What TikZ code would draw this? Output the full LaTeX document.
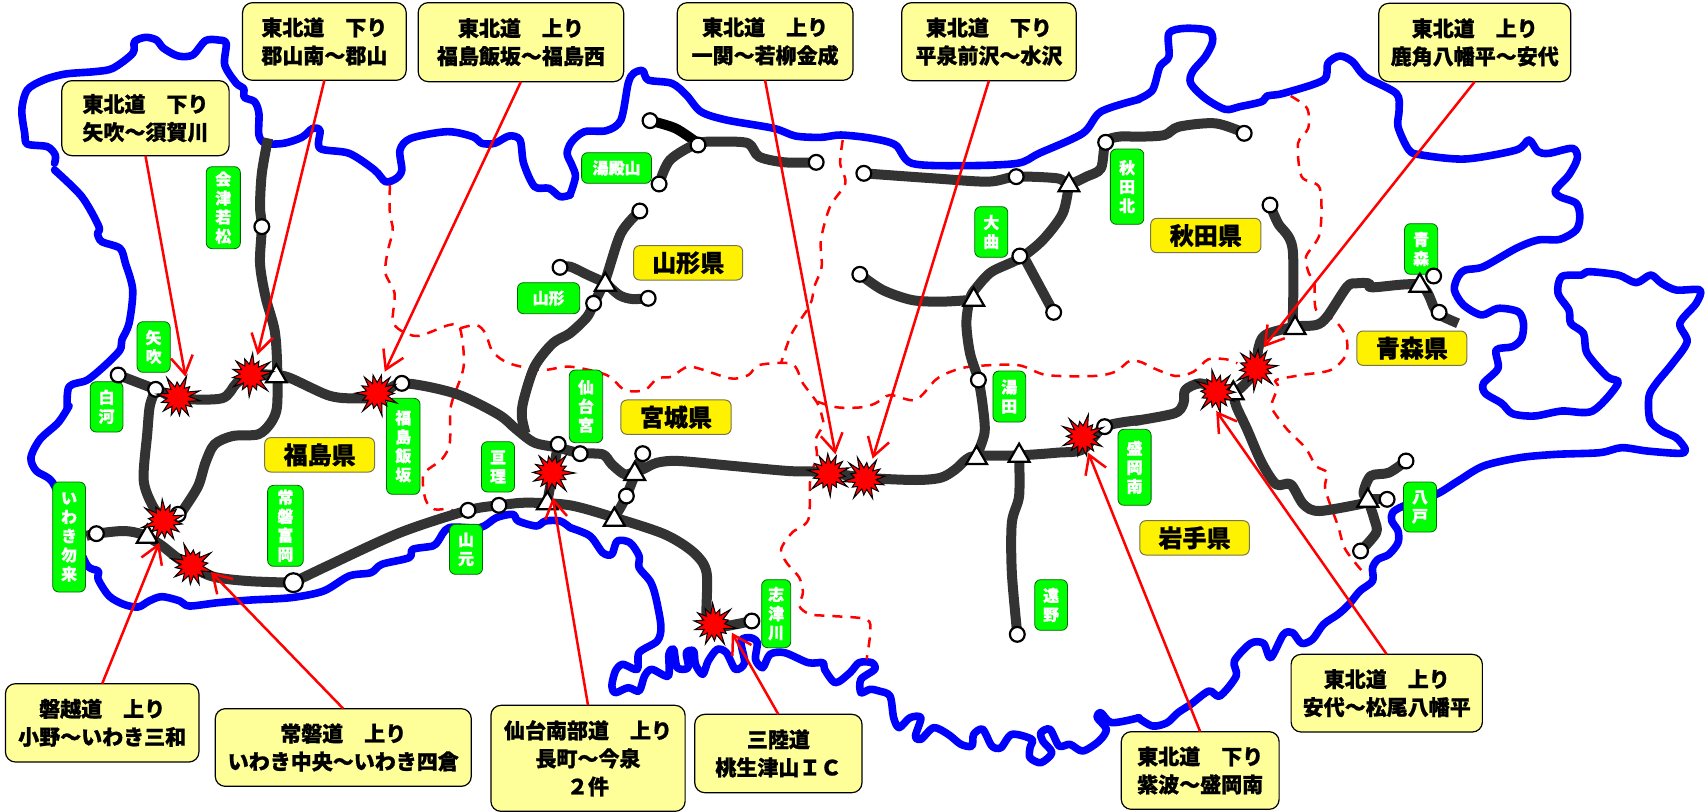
\documentclass[tikz,border=0pt]{standalone}
\usepackage{fontspec}
\setmainfont{Noto Sans CJK JP}[BoldFeatures={FakeBold=1}]
\usetikzlibrary{shapes.geometric,arrows.meta}
\definecolor{roadc}{HTML}{333333}
\definecolor{lblc}{HTML}{FFFF99}
\definecolor{grn}{HTML}{00FF00}
\tikzset{
 p1/.style={shift={(0pt,0pt)},x=0.18182pt,y=-0.16667pt},
 p2/.style={shift={(285pt,0pt)},x=0.18182pt,y=-0.16667pt},
 p3/.style={shift={(569pt,0pt)},x=0.18182pt,y=-0.16667pt},
 p4/.style={shift={(0pt,-203pt)},x=0.18182pt,y=-0.16667pt},
 p5/.style={shift={(285pt,-203pt)},x=0.18182pt,y=-0.16667pt},
 p6/.style={shift={(569pt,-203pt)},x=0.18182pt,y=-0.16667pt},
 coast/.style={draw=blue,line width=3.8pt,line join=round,line cap=round},
 border/.style={draw=red,line width=1.25pt,dash pattern=on 5pt off 4pt},
 road/.style={draw=roadc,line width=5pt,line join=round},
 lblbox/.style={draw=black,line width=.6pt,fill=lblc,rounded corners=5pt,inner sep=0pt,outer sep=0pt,align=center,font=\fontsize{10.5}{14}\selectfont\bfseries},
 prefbox/.style={draw=black!60!yellow,line width=.5pt,fill=yellow,rounded corners=3pt,inner sep=0pt,outer sep=0pt,align=center,font=\fontsize{12}{14}\selectfont\bfseries},
 grnbox/.style={draw=black!60!green,line width=.4pt,fill=grn,rounded corners=3pt,inner sep=0pt,outer sep=0pt,align=center,text=white,font=\fontsize{8}{9.5}\selectfont\bfseries},
 cir/.style={circle,draw=black,line width=1.1pt,fill=white,minimum size=7.4pt,inner sep=0pt},
 tri/.style={regular polygon,regular polygon sides=3,draw=black,line width=1.1pt,fill=white,minimum size=12pt,inner sep=0pt},
 burstp/.style={draw=black,line width=.5pt,fill=red,miter limit=10},
 pointer/.style={draw=red,line width=1.25pt,-{Straight Barb[length=9pt,width=11pt]}},
}
\newcommand{\bl}[1]{\draw[coast] plot[smooth,tension=.5] coordinates {#1};}
\newcommand{\dl}[1]{\draw[border] plot[smooth,tension=.5] coordinates {#1};}
\newcommand{\rd}[1]{\draw[road] plot[smooth,tension=.5] coordinates {#1};}
\newcommand{\lb}[6]{\node[lblbox,minimum width={(#3-#2)*0.18182pt},minimum height={(#5-#4)*0.16667pt}] (#1) at ({(#2+#3)/2},{(#4+#5)/2}) {#6};}
\newcommand{\pf}[6]{\node[prefbox,minimum width={(#3-#2)*0.18182pt},minimum height={(#5-#4)*0.16667pt}] (#1) at ({(#2+#3)/2},{(#4+#5)/2}) {#6};}
\newcommand{\gn}[6]{\node[grnbox,minimum width={(#3-#2)*0.18182pt},minimum height={(#5-#4)*0.16667pt}] (#1) at ({(#2+#3)/2},{(#4+#5)/2}) {#6};}
\begin{document}
\begin{tikzpicture}
\useasboundingbox (0pt,0pt) rectangle (854pt,-406pt);
\fill[white] (0pt,0pt) rectangle (854pt,-406pt);
% coast
\begin{scope}[p1]
\bl{(150,490)(152,465)(130,440)(75,432)(68,400)(60,330)(75,270)(120,240)(180,222)(260,215)(310,205)(365,160)(370,125)(400,112)(430,120)(450,145)(490,168)(530,165)(565,122)(600,120)(622,130)(618,195)(650,250)(670,265)(672,292)(700,305)(712,340)(712,405)(730,430)(780,430)(830,412)(860,385)(880,392)(880,445)(960,460)(1030,510)(1060,545)(1090,535)(1105,510)(1100,450)(1130,415)(1230,395)(1300,410)(1325,430)(1360,430)(1400,408)(1430,420)(1440,490)(1470,560)(1510,565)(1540,590)(1568,585)}
\bl{(185,1225)(190,1160)(240,1140)(290,1095)(330,1050)(335,1020)(355,970)(365,870)(345,790)(330,745)(280,725)(268,700)(272,680)(225,590)(150,510)}
\end{scope}
\begin{scope}[p2]
\bl{(0,585)(15,530)(5,495)(-8,460)(5,425)(40,395)(100,392)(140,360)(160,250)(175,220)(200,212)(215,240)(280,250)(320,285)(360,335)(430,360)(560,385)(620,408)(690,412)(745,405)(830,415)(895,435)(940,490)(1080,497)(1230,490)(1290,460)(1410,400)(1460,335)(1565,298)}
\end{scope}
\begin{scope}[p3]
\bl{(0,298)(40,270)(60,200)(85,170)(85,100)(130,85)(195,92)(205,125)(185,170)(150,215)(145,250)(185,295)(240,328)(280,320)(340,305)(355,288)(400,280)(510,240)(522,190)(555,168)(590,185)(625,230)(710,280)(718,330)(715,380)(745,450)(780,465)(900,477)(1040,450)(1075,420)(1100,455)(1130,460)(1195,445)(1208,475)(1185,525)(1148,570)(1160,590)(1205,610)(1215,650)(1205,690)(1160,718)(1100,720)(1040,745)(950,800)(900,810)(880,830)(870,870)(895,915)(945,945)(990,925)(1045,935)(1060,970)(1055,1015)(1030,1040)(985,1050)(990,1105)(950,1150)(955,1180)(1000,1210)(1030,1241)(1090,1248)(1165,1233)(1250,1233)(1320,1150)(1290,1130)(1235,1060)(1225,1000)(1190,970)(1185,930)(1155,880)(1165,830)(1220,825)(1240,815)(1320,825)(1370,848)(1410,825)(1440,850)(1480,870)(1545,870)(1535,910)(1490,970)(1510,1025)(1470,1090)(1425,1150)(1405,1190)(1408,1260)(1440,1293)(1480,1313)(1505,1348)(1490,1360)(1400,1353)(1330,1343)(1270,1358)(1150,1363)(1050,1373)(950,1398)(880,1443)(820,1483)(730,1518)(700,1538)(698,1563)(715,1593)(715,1628)(690,1663)(660,1678)(645,1703)(645,1743)(610,1773)(580,1813)(550,1843)(510,1873)(480,1918)(450,1930)(425,1898)(400,1903)(365,1973)(345,1930)(310,1930)(265,1983)(270,2028)(225,2088)(195,2073)(145,2113)(110,2138)(80,2168)(40,2178)(0,2153)}
\end{scope}
\begin{scope}[p5]
\bl{(1565,935)(1490,950)(1460,920)(1450,935)(1475,970)(1455,1005)(1410,1035)(1375,1015)(1345,1020)(1320,970)(1295,980)(1300,1005)(1325,1040)(1295,1070)(1265,1055)(1265,1025)(1270,1000)(1215,985)(1185,1025)(1160,1020)(1135,970)(1110,985)(1105,1020)(1075,1015)(1040,985)(1000,965)(965,1000)(950,990)(965,935)(935,935)(905,965)(890,935)(880,870)(850,855)(825,850)(800,860)(800,820)(838,790)(830,770)(795,770)(770,800)(730,830)(700,790)(695,770)(655,770)(590,740)(550,745)(530,785)(510,760)(515,710)(495,695)(470,705)(480,770)(455,790)(430,740)(405,730)(380,765)(365,805)(345,775)(340,735)(320,740)(325,785)(295,785)(285,730)(272,745)(270,810)(225,790)(205,810)(190,855)(160,845)(125,860)(115,840)(125,795)(145,775)(185,790)(190,740)(240,705)(250,660)(235,570)(220,525)(190,485)(190,450)(165,410)(130,405)(115,445)(90,440)(55,390)(0,365)}
\end{scope}
\begin{scope}[p4]
\bl{(1568,365)(1540,345)(1500,345)(1475,360)(1425,345)(1410,325)(1365,335)(1320,365)(1235,365)(1205,405)(1190,420)(1135,430)(1125,455)(1050,475)(1020,500)(960,510)(890,555)(800,575)(690,582)(600,590)(520,600)(495,585)(445,572)(410,585)(380,603)(340,595)(300,570)(270,520)(270,495)(238,475)(190,350)(145,230)(100,195)(85,155)(110,100)(160,50)(190,0)}
\end{scope}
% dashed borders
\begin{scope}[p1]
\dl{(1072,555)(1072,640)(1080,690)(1065,760)(1060,820)(1085,880)(1080,960)(1100,990)(1150,1008)(1235,975)(1265,985)(1275,1100)(1240,1218)(1237,1328)(1215,1378)(1165,1423)(1170,1498)(1195,1528)(1240,1528)(1270,1568)}
\dl{(1265,985)(1310,975)(1335,1000)(1355,1055)(1400,1090)(1490,1110)(1568,1100)(1668,1125)(1718,1170)(1773,1170)(1808,1135)(1848,1130)(1898,1100)(2008,1135)(2058,1125)(2088,1095)(2178,1092)(2208,1150)(2248,1210)(2263,1260)(2263,1278)(2243,1318)(2246,1368)(2228,1438)(2223,1558)(2178,1598)(2148,1648)(2163,1688)(2198,1733)(2208,1778)(2198,1818)(2228,1843)(2288,1848)(2383,1858)(2393,1898)(2383,1978)}
\end{scope}
\begin{scope}[p2]
\dl{(750,420)(743,490)(757,550)(715,620)(690,720)(692,800)(672,860)(660,915)(610,1000)(580,1090)}
\dl{(680,1205)(735,1222)(800,1222)(840,1210)(880,1185)(950,1200)(1005,1140)(1040,1118)(1100,1100)(1230,1095)(1310,1125)(1440,1128)(1500,1115)(1540,1082)(1575,1088)(1595,1100)(1665,1128)(1715,1115)(1755,1078)(1805,1078)(1835,1090)}
\end{scope}
\begin{scope}[p3]
\dl{(420,288)(465,325)(468,385)(440,430)(450,530)(500,565)(500,700)(462,770)(470,820)(485,850)(490,930)(540,960)(572,1010)(572,1065)(530,1110)(450,1125)(380,1140)(385,1160)(368,1210)(372,1233)(410,1288)(460,1343)(490,1398)(520,1418)(515,1468)(550,1578)(570,1648)(620,1718)}
\end{scope}
% roads
\begin{scope}[p1]
\rd{(737,415)(720,520)(715,620)(720,680)(715,790)(730,890)(755,990)(762,1090)(762,1218)(745,1268)(710,1303)(640,1308)(590,1333)(565,1388)(545,1458)(505,1528)(490,1548)}
\rd{(325,1125)(428,1168)(490,1195)(610,1195)(650,1150)(690,1125)(760,1125)(800,1135)(900,1185)(960,1195)(1040,1190)(1105,1150)(1250,1180)(1370,1243)(1420,1288)(1470,1328)(1535,1343)(1595,1361)}
\rd{(428,1168)(412,1218)(405,1300)(395,1440)(420,1518)(450,1560)}
\rd{(1632,910)(1615,950)(1567,1000)(1520,1030)(1470,1100)(1440,1200)(1435,1250)(1445,1300)}
\rd{(1540,802)(1568,800)(1617,825)(1664,848)}
\end{scope}
\begin{scope}[p2]
\draw[line width=5pt,black] plot[smooth,tension=.5] coordinates {(220,362)(290,385)(352,430)};
\rd{(97,848)(135,885)(170,897)(215,895)}
\rd{(192,633)(140,700)(97,840)(65,910)}
\rd{(245,552)(275,480)(352,430)(420,425)(490,430)(520,470)(590,487)(677,487)}
\rd{(808,520)(1000,535)(1150,545)(1227,530)(1340,535)(1372,552)(1420,530)(1460,505)(1473,427)(1510,410)(1568,410)(1635,405)(1675,380)(1775,370)(1857,400)}
\rd{(1372,552)(1355,640)(1300,720)(1237,775)(1160,815)(1120,860)(1100,895)(1090,970)(1100,1060)(1123,1140)(1135,1218)(1140,1298)(1118,1368)}
\rd{(797,823)(860,870)(940,900)(1020,905)(1100,900)}
\rd{(1250,775)(1330,937)}
\end{scope}
\begin{scope}[p3]
\rd{(363,615)(385,670)(425,745)(425,980)}
\rd{(-10,1263)(100,1240)(125,1210)(130,1170)(170,1150)(215,1165)(262,1178)(300,1145)(328,1100)(330,1050)(350,1005)(432,980)(490,975)(520,950)(575,860)(600,850)(635,850)(645,862)(775,855)(815,925)(830,945)(880,970)}
\rd{(262,1178)(270,1218)(300,1288)(340,1388)(380,1453)(420,1453)(455,1513)(500,1533)(630,1508)}
\rd{(632,1498)(650,1558)(655,1598)(612,1653)}
\rd{(632,1498)(620,1478)(640,1428)(690,1418)(737,1383)}
\rd{(632,1498)(685,1498)}
\end{scope}
\begin{scope}[p4]
\rd{(237,390)(265,383)(340,375)(390,385)(440,415)(500,465)(580,510)(680,525)(805,530)}
\rd{(805,530)(900,480)(1100,380)(1287,313)(1372,298)(1450,290)(1568,298)(1690,335)(1828,385)(1908,440)(1943,500)(1943,640)(1963,665)(2068,645)}
\rd{(1535,115)(1520,200)(1505,288)}
\end{scope}
\begin{scope}[p5]
\rd{(28,143)(90,145)(115,175)(150,205)(178,197)(200,190)(240,170)(300,165)(450,180)(600,195)(700,198)(810,215)(950,222)(1020,215)(1060,190)(1090,160)(1118,150)(1235,148)(1340,140)(1410,130)(1470,62)(1570,42)}
\rd{(122,335)(155,270)(200,143)}
\rd{(1235,148)(1235,270)(1215,350)(1215,500)(1230,685)}
\end{scope}
% green boxes
\begin{scope}[p1]
\gn{g1}{567}{661}{500}{746}{会\\津\\若\\松}
\gn{g2}{377}{468}{965}{1117}{矢\\吹}
\gn{g3}{248}{338}{1145}{1296}{白\\河}
\gn{g4}{1063}{1155}{1195}{1483}{福\\島\\飯\\坂}
\gn{g5}{1423}{1594}{848}{941}{山形}
\end{scope}
\begin{scope}[p4]
\gn{g6}{145}{235}{228}{558}{い\\わ\\き\\勿\\来}
\gn{g7}{736}{834}{238}{481}{常\\磐\\富\\岡}
\gn{g8}{1324}{1415}{107}{258}{亘\\理}
\gn{g9}{1236}{1327}{355}{505}{山\\元}
\end{scope}
\begin{scope}[p2]
\gn{g10}{32}{224}{458}{550}{湯殿山}
\gn{g11}{-2}{90}{1110}{1328}{仙\\台\\宮}
\gn{g12}{1486}{1578}{447}{673}{秋\\田\\北}
\gn{g13}{1113}{1204}{620}{772}{大\\曲}
\gn{g14}{1163}{1253}{1113}{1266}{湯\\田}
\end{scope}
\begin{scope}[p5]
\gn{g15}{527}{607}{521}{725}{志\\津\\川}
\gn{g16}{1278}{1368}{521}{673}{遠\\野}
\gn{g17}{1507}{1598}{70}{298}{盛\\岡\\南}
\end{scope}
\begin{scope}[p3]\gn{g18}{733}{824}{671}{823}{青\\森}\end{scope}
\begin{scope}[p6]\gn{g19}{730}{821}{228}{378}{八\\戸}\end{scope}
% prefecture boxes
\begin{scope}[p4]\pf{k1}{728}{1030}{95}{198}{福島県}\end{scope}
\begin{scope}[p2]\pf{k2}{175}{475}{737}{840}{山形県}\end{scope}
\begin{scope}[p5]\pf{k3}{140}{443}{-18}{85}{宮城県}\end{scope}
\begin{scope}[p3]\pf{k4}{35}{338}{655}{758}{秋田県}\pf{k5}{602}{904}{993}{1096}{青森県}\end{scope}
\begin{scope}[p6]\pf{k6}{5}{306}{344}{447}{岩手県}\end{scope}
% circles
\begin{scope}[p1]\foreach \x/\y [count=\i] in {325/1125,428/1168,720/680,1105/1150,1540/802} \node[cir] (ca\i) at (\x,\y) {};\end{scope}
\begin{scope}[p2]\foreach \x/\y [count=\i] in {220/362,352/435,245/552,677/487,808/520,1227/530,1473/427,192/633,215/895,65/910,797/823,1237/768,1330/937,1123/1140} \node[cir] (cb\i) at (\x,\y) {};\end{scope}
\begin{scope}[p3]\foreach \x/\y [count=\i] in {292/400,363/615,813/828,828/937} \node[cir] (cc\i) at (\x,\y) {};\end{scope}
\begin{scope}[p4]\foreach \x/\y [count=\i] in {265/383,490/325,1287/313,1372/298,1535/115} \node[cir] (cd\i) at (\x,\y) {};
\node[cir,minimum size=9.4pt] (cd6) at (807,530) {};\end{scope}
\begin{scope}[p5]\foreach \x/\y [count=\i] in {28/143,200/143,155/270,500/645,1230/685,1470/62} \node[cir] (ce\i) at (\x,\y) {};\end{scope}
\begin{scope}[p6]\foreach \x/\y [count=\i] in {737/165,685/280,612/435} \node[cir] (cf\i) at (\x,\y) {};\end{scope}
% triangles
\begin{scope}[p1]\node[tri] (ta) at (760,1129) {};\end{scope}
\begin{scope}[p2]\node[tri] (tb1) at (97,854) {};\node[tri] (tb2) at (1372,556) {};\node[tri] (tb3) at (1110,899) {};\end{scope}
\begin{scope}[p3]\node[tri] (tc1) at (432,984) {};\node[tri] (tc2) at (262,1180) {};\node[tri] (tc3) at (775,857) {};\end{scope}
\begin{scope}[p4]\node[tri] (td1) at (405,392) {};\node[tri] (td2) at (1505,292) {};\end{scope}
\begin{scope}[p5]\node[tri] (te1) at (178,204) {};\node[tri] (te2) at (122,341) {};\node[tri] (te3) at (1118,156) {};\node[tri] (te4) at (1235,149) {};\end{scope}
\begin{scope}[p6]\node[tri] (tf) at (632,284) {};\end{scope}
% bursts
\begin{scope}[p1]\coordinate (b1) at (490,1192);\coordinate (b2) at (690,1125);\coordinate (b3) at (1037,1180);
\coordinate (t1) at (510,1130);\coordinate (t2) at (708,1065);\coordinate (t3) at (1058,1115);\end{scope}
\begin{scope}[p4]\coordinate (b4) at (450,345);\coordinate (b5) at (528,478);\coordinate (b6) at (1518,200);
\coordinate (t7) at (438,410);\coordinate (t8) at (580,498);\coordinate (t9) at (1520,275);\end{scope}
\begin{scope}[p5]\coordinate (b7) at (712,203);\coordinate (b8) at (812,218);\coordinate (b9) at (1410,92);\coordinate (b10) at (395,655);
\coordinate (t4) at (730,145);\coordinate (t5) at (832,158);\coordinate (t10) at (445,680);\coordinate (t11) at (1425,140);\end{scope}
\begin{scope}[p3]\coordinate (b11) at (325,1105);\coordinate (b12) at (215,1175);\coordinate (t6) at (345,1042);\end{scope}
\begin{scope}[p6]\coordinate (t12) at (215,15);\end{scope}
\foreach \k in {1,...,12} {
 \begin{scope}[shift={(b\k)},x=1pt,y=1pt,rotate=\k*17]
 \draw[burstp] plot[samples at={0,...,27}] ({\x*360/28}:{mod(\x,2)==0 ? 9.6+1.9*sin(\x*97+\k*53) : 5.4}) -- cycle;
 \end{scope}
}
% callouts
\begin{scope}[p1]
\lb{L1}{170}{630}{242}{467}{東北道　下り\\矢吹～須賀川}
\lb{L2}{667}{1117}{8}{241}{東北道　下り\\郡山南～郡山}
\lb{L3}{1150}{1715}{8}{245}{東北道　上り\\福島飯坂～福島西}
\end{scope}
\begin{scope}[p2]
\lb{L4}{295}{778}{8}{241}{東北道　上り\\一関～若柳金成}
\lb{L5}{912}{1392}{8}{242}{東北道　下り\\平泉前沢～水沢}
\end{scope}
\begin{scope}[p3]\lb{L6}{662}{1190}{10}{245}{東北道　上り\\鹿角八幡平～安代}\end{scope}
\begin{scope}[p4]
\lb{L7}{15}{547}{833}{1068}{磐越道　上り\\小野～いわき三和}
\lb{L8}{592}{1296}{908}{1141}{常磐道　上り\\いわき中央～いわき四倉}
\lb{L9}{1350}{1884}{898}{1216}{仙台南部道　上り\\長町～今泉\\２件}
\end{scope}
\begin{scope}[p5]
\lb{L10}{343}{803}{925}{1160}{三陸道\\桃生津山ＩＣ}
\lb{L11}{1516}{1950}{977}{1210}{東北道　下り\\紫波～盛岡南}
\end{scope}
\begin{scope}[p6]\lb{L12}{421}{947}{745}{978}{東北道　上り\\安代～松尾八幡平}\end{scope}
% pointers
\foreach \i in {1,2,3,4,5,6} \draw[pointer] (L\i.south) -- (t\i);
\foreach \i in {7,8,9,10,11,12} \draw[pointer] (L\i.north) -- (t\i);
\end{tikzpicture}
\end{document}
